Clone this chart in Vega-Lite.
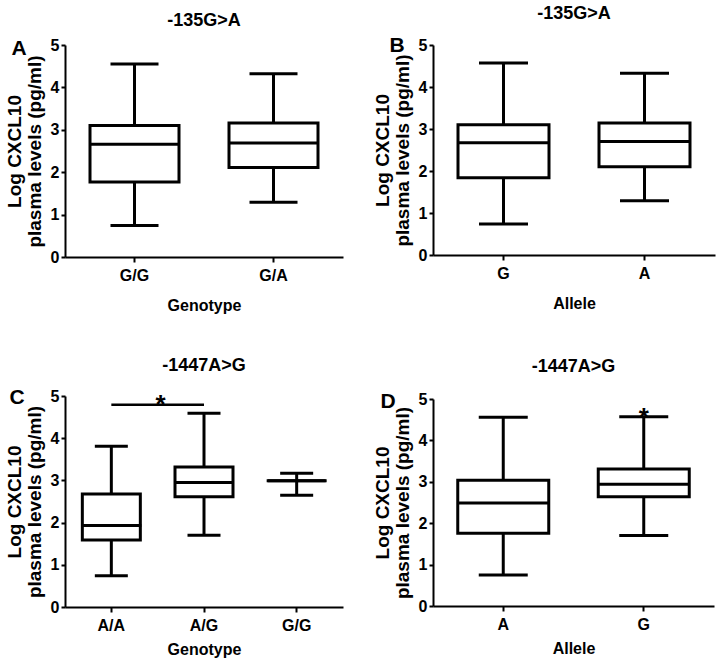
{
  "$schema": "https://vega.github.io/schema/vega-lite/v6.json",
  "padding": {"left": 5, "top": 5, "right": 5, "bottom": 5},
  "background": "white",
  "config": {
    "font": "Liberation Sans",
    "view": {"stroke": null},
    "tick": {"opacity": 1},
    "axis": {"grid": false, "domainColor": "black", "domainWidth": 2, "tickColor": "black", "tickWidth": 2, "labelFont": "Liberation Sans", "labelFontWeight": "bold", "labelFontSize": 16, "labelColor": "black", "titleFont": "Liberation Sans", "titleFontWeight": "bold", "titleColor": "black"},
    "axisX": {"labelAngle": 0, "tickSize": 5, "labelPadding": 5, "titleFontSize": 16, "titlePadding": 14},
    "axisY": {"tickSize": 4, "labelPadding": 2, "titleFontSize": 19, "titleLineHeight": 20, "titlePadding": 6, "values": [0, 1, 2, 3, 4, 5]},
    "title": {"font": "Liberation Sans", "fontSize": 18, "fontWeight": "bold", "color": "black", "anchor": "middle", "frame": "group", "offset": 12}
  },
  "datasets": {
    "boxes": [
      {"panel": "A", "group": "G/G", "min": 0.74, "q1": 1.77, "median": 2.66, "q3": 3.10, "max": 4.55},
      {"panel": "A", "group": "G/A", "min": 1.29, "q1": 2.11, "median": 2.69, "q3": 3.16, "max": 4.32},
      {"panel": "B", "group": "G", "min": 0.74, "q1": 1.84, "median": 2.67, "q3": 3.10, "max": 4.57},
      {"panel": "B", "group": "A", "min": 1.29, "q1": 2.10, "median": 2.70, "q3": 3.14, "max": 4.33},
      {"panel": "C", "group": "A/A", "min": 0.74, "q1": 1.59, "median": 1.93, "q3": 2.68, "max": 3.81},
      {"panel": "C", "group": "A/G", "min": 1.70, "q1": 2.61, "median": 2.95, "q3": 3.32, "max": 4.59},
      {"panel": "C", "group": "G/G", "min": 2.65, "q1": 2.99, "median": 2.99, "q3": 2.99, "max": 3.17},
      {"panel": "D", "group": "A", "min": 0.75, "q1": 1.76, "median": 2.49, "q3": 3.04, "max": 4.56},
      {"panel": "D", "group": "G", "min": 1.70, "q1": 2.64, "median": 2.94, "q3": 3.31, "max": 4.57}
    ]
  },
  "columns": 2,
  "align": "none",
  "spacing": {"row": 44, "column": 30},
  "concat": [
    {
      "width": 278, "height": 212,
      "title": {"text": "-135G>A", "offset": 7},
      "data": {"name": "boxes"},
      "transform": [{"filter": "datum.panel === 'A'"}],
      "encoding": {"x": {"field": "group", "type": "nominal", "scale": {"domain": ["G/G", "G/A"], "paddingInner": 0, "paddingOuter": 0}, "axis": {"title": "Genotype"}}},
      "layer": [
        {"mark": {"type": "rule", "color": "black", "strokeWidth": 3}, "encoding": {"y": {"field": "min", "type": "quantitative", "scale": {"domain": [0, 5], "nice": false}, "axis": {"title": ["Log CXCL10", "plasma levels (pg/ml)"]}}, "y2": {"field": "max"}}},
        {"mark": {"type": "bar", "fill": "white", "stroke": "black", "strokeWidth": 3, "size": 89}, "encoding": {"y": {"field": "q1", "type": "quantitative"}, "y2": {"field": "q3"}}},
        {"mark": {"type": "tick", "color": "black", "thickness": 3, "size": 90}, "encoding": {"y": {"field": "median", "type": "quantitative"}}},
        {"mark": {"type": "tick", "color": "black", "thickness": 3, "size": 48}, "encoding": {"y": {"field": "min", "type": "quantitative"}}},
        {"mark": {"type": "tick", "color": "black", "thickness": 3, "size": 48}, "encoding": {"y": {"field": "max", "type": "quantitative"}}},
        {"data": {"values": [{"letter": "A"}]}, "mark": {"type": "text", "fontSize": 21, "fontWeight": "bold", "color": "black", "align": "center", "baseline": "middle", "dx": -46}, "encoding": {"x": {"value": 0}, "y": {"datum": 4.9, "type": "quantitative"}, "text": {"field": "letter"}}}
      ]
    },
    {
      "width": 282, "height": 210,
      "title": {"text": "-135G>A", "offset": 12},
      "data": {"name": "boxes"},
      "transform": [{"filter": "datum.panel === 'B'"}],
      "encoding": {"x": {"field": "group", "type": "nominal", "scale": {"domain": ["G", "A"], "paddingInner": 0, "paddingOuter": 0}, "axis": {"title": "Allele"}}},
      "layer": [
        {"mark": {"type": "rule", "color": "black", "strokeWidth": 3}, "encoding": {"y": {"field": "min", "type": "quantitative", "scale": {"domain": [0, 5], "nice": false}, "axis": {"title": ["Log CXCL10", "plasma levels (pg/ml)"]}}, "y2": {"field": "max"}}},
        {"mark": {"type": "bar", "fill": "white", "stroke": "black", "strokeWidth": 3, "size": 91}, "encoding": {"y": {"field": "q1", "type": "quantitative"}, "y2": {"field": "q3"}}},
        {"mark": {"type": "tick", "color": "black", "thickness": 3, "size": 92}, "encoding": {"y": {"field": "median", "type": "quantitative"}}},
        {"mark": {"type": "tick", "color": "black", "thickness": 3, "size": 49}, "encoding": {"y": {"field": "min", "type": "quantitative"}}},
        {"mark": {"type": "tick", "color": "black", "thickness": 3, "size": 49}, "encoding": {"y": {"field": "max", "type": "quantitative"}}},
        {"data": {"values": [{"letter": "B"}]}, "mark": {"type": "text", "fontSize": 21, "fontWeight": "bold", "color": "black", "align": "center", "baseline": "middle", "dx": -36}, "encoding": {"x": {"value": 0}, "y": {"datum": 4.97, "type": "quantitative"}, "text": {"field": "letter"}}}
      ]
    },
    {
      "width": 278, "height": 211,
      "title": {"text": "-1447A>G", "offset": 12},
      "data": {"name": "boxes"},
      "transform": [{"filter": "datum.panel === 'C'"}],
      "encoding": {"x": {"field": "group", "type": "nominal", "scale": {"domain": ["A/A", "A/G", "G/G"], "paddingInner": 0, "paddingOuter": 0}, "axis": {"title": "Genotype", "titlePadding": 8}}},
      "layer": [
        {"mark": {"type": "rule", "color": "black", "strokeWidth": 3}, "encoding": {"y": {"field": "min", "type": "quantitative", "scale": {"domain": [0, 5], "nice": false}, "axis": {"title": ["Log CXCL10", "plasma levels (pg/ml)"]}}, "y2": {"field": "max"}}},
        {"mark": {"type": "bar", "fill": "white", "stroke": "black", "strokeWidth": 3, "size": 58}, "encoding": {"y": {"field": "q1", "type": "quantitative"}, "y2": {"field": "q3"}}},
        {"mark": {"type": "tick", "color": "black", "thickness": 3, "size": 60}, "encoding": {"y": {"field": "median", "type": "quantitative"}}},
        {"mark": {"type": "tick", "color": "black", "thickness": 3, "size": 33}, "encoding": {"y": {"field": "min", "type": "quantitative"}}},
        {"mark": {"type": "tick", "color": "black", "thickness": 3, "size": 33}, "encoding": {"y": {"field": "max", "type": "quantitative"}}},
        {"data": {"values": [{"group": "A/A", "group2": "A/G", "sig": 4.79}]}, "mark": {"type": "rule", "color": "black", "strokeWidth": 2.5}, "encoding": {"x": {"field": "group", "type": "nominal", "bandPosition": 0.5}, "x2": {"field": "group2"}, "y": {"field": "sig", "type": "quantitative"}}},
        {"data": {"values": [{"group": "A/G", "sig": 4.79, "mark": "*"}]}, "mark": {"type": "text", "fontSize": 26, "fontWeight": "bold", "color": "black", "align": "center", "baseline": "middle", "dx": 3}, "encoding": {"x": {"field": "group", "type": "nominal", "bandPosition": 0}, "y": {"field": "sig", "type": "quantitative"}, "text": {"field": "mark"}}},
        {"data": {"values": [{"letter": "C"}]}, "mark": {"type": "text", "fontSize": 21, "fontWeight": "bold", "color": "black", "align": "center", "baseline": "middle", "dx": -48}, "encoding": {"x": {"value": 0}, "y": {"datum": 4.95, "type": "quantitative"}, "text": {"field": "letter"}}}
      ]
    },
    {
      "width": 281, "height": 207,
      "title": {"text": "-1447A>G", "offset": 15},
      "data": {"name": "boxes"},
      "transform": [{"filter": "datum.panel === 'D'"}],
      "encoding": {"x": {"field": "group", "type": "nominal", "scale": {"domain": ["A", "G"], "paddingInner": 0, "paddingOuter": 0}, "axis": {"title": "Allele", "titlePadding": 8}}},
      "layer": [
        {"mark": {"type": "rule", "color": "black", "strokeWidth": 3}, "encoding": {"y": {"field": "min", "type": "quantitative", "scale": {"domain": [0, 5], "nice": false}, "axis": {"title": ["Log CXCL10", "plasma levels (pg/ml)"]}}, "y2": {"field": "max"}}},
        {"mark": {"type": "bar", "fill": "white", "stroke": "black", "strokeWidth": 3, "size": 91}, "encoding": {"y": {"field": "q1", "type": "quantitative"}, "y2": {"field": "q3"}}},
        {"mark": {"type": "tick", "color": "black", "thickness": 3, "size": 92}, "encoding": {"y": {"field": "median", "type": "quantitative"}}},
        {"mark": {"type": "tick", "color": "black", "thickness": 3, "size": 49}, "encoding": {"y": {"field": "min", "type": "quantitative"}}},
        {"mark": {"type": "tick", "color": "black", "thickness": 3, "size": 49}, "encoding": {"y": {"field": "max", "type": "quantitative"}}},
        {"data": {"values": [{"group": "G", "sig": 4.55, "mark": "*"}]}, "mark": {"type": "text", "fontSize": 26, "fontWeight": "bold", "color": "black", "align": "center", "baseline": "middle"}, "encoding": {"x": {"field": "group", "type": "nominal"}, "y": {"field": "sig", "type": "quantitative"}, "text": {"field": "mark"}}},
        {"data": {"values": [{"letter": "D"}]}, "mark": {"type": "text", "fontSize": 21, "fontWeight": "bold", "color": "black", "align": "center", "baseline": "middle", "dx": -45}, "encoding": {"x": {"value": 0}, "y": {"datum": 4.93, "type": "quantitative"}, "text": {"field": "letter"}}}
      ]
    }
  ]
}
